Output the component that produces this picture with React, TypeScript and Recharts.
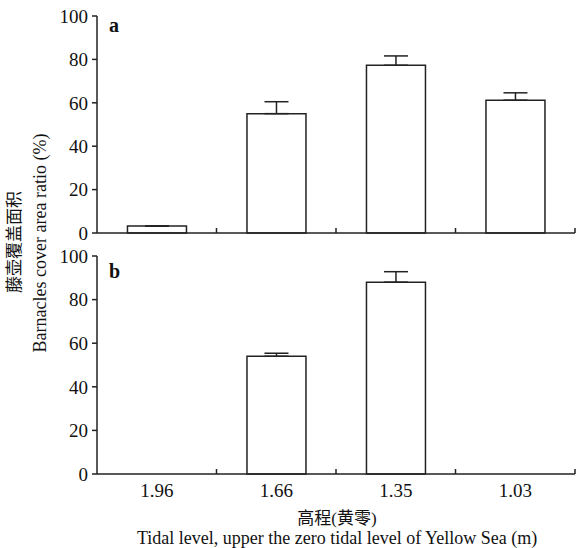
import React from 'react';
import { BarChart, Bar, XAxis, YAxis, ErrorBar } from 'recharts';

const categories = ['1.96', '1.66', '1.35', '1.03'];
const coverA = [3.2, 55, 77.3, 61.2];
const errA = [0, 5.5, 4.3, 3.4];
const coverB = [0, 54, 88, 0];
const errB = [0, 1.4, 4.8, 0];
const yTicks = [0, 20, 40, 60, 80, 100];

const dataA = categories.map((c, i) => ({ level: c, cover: coverA[i], err: [0, errA[i]] }));
const dataB = categories.map((c, i) => ({ level: c, cover: coverB[i], err: [0, errB[i]] }));

const FONT = '"Liberation Serif", "Times New Roman", "Noto Sans CJK SC", serif';
const STROKE = '#222';

const makeTick = (showLabel: boolean) => (props: any) => {
  const { x, y, payload } = props;
  const off = payload && typeof payload.offset === 'number' ? payload.offset : 0;
  return (
    <g>
      <line x1={x + off} x2={x + off} y1={y} y2={y - 5} stroke={STROKE} strokeWidth={1.5} />
      {showLabel && (
        <text x={x} y={y} dy={23} textAnchor="middle" fontSize={19} fontFamily={FONT} fill="#111">
          {payload.value}
        </text>
      )}
    </g>
  );
};

function Panel({ data, height, bottom, showLabel }: any) {
  return (
    <BarChart
      width={576}
      height={height}
      data={data}
      margin={{ top: 16, right: 1, left: 57, bottom }}
      barCategoryGap="25.5%"
    >
      <XAxis
        dataKey="level"
        tick={makeTick(showLabel)}
        tickLine={false}
        tickSize={0}
        tickMargin={0}
        height={30}
        stroke={STROKE}
        strokeWidth={1.5}
        interval={0}
      />
      <YAxis
        domain={[0, 100]}
        ticks={yTicks}
        width={40}
        tickSize={5}
        tickMargin={4}
        stroke={STROKE}
        strokeWidth={1.5}
        tick={{ fontSize: 19, fontFamily: FONT, fill: '#111' }}
        interval={0}
      />
      <Bar dataKey="cover" fill="#fff" stroke={STROKE} strokeWidth={1.5} isAnimationActive={false}>
        <ErrorBar dataKey="err" direction="y" width={12} stroke={STROKE} strokeWidth={1.5} isAnimationActive={false} />
      </Bar>
    </BarChart>
  );
}

export default function App() {
  return (
    <div style={{ position: 'absolute', left: 0, top: 0, width: 576, height: 548, overflow: 'hidden', background: '#fff', fontFamily: FONT, color: '#111' }}>
      <div style={{ position: 'absolute', left: 0, top: 0 }}>
        <Panel data={dataA} height={263} bottom={0} showLabel={false} />
      </div>
      <div style={{ position: 'absolute', left: 0, top: 240 }}>
        <Panel data={dataB} height={308} bottom={44} showLabel={true} />
      </div>
      <div style={{ position: 'absolute', left: 109, top: 14, fontSize: 20, fontWeight: 'bold', lineHeight: '22px' }}>a</div>
      <div style={{ position: 'absolute', left: 109, top: 260, fontSize: 20, fontWeight: 'bold', lineHeight: '22px' }}>b</div>
      <div style={{ position: 'absolute', left: 15, top: 242, width: 0, height: 0 }}>
        <div style={{ position: 'absolute', transform: 'translate(-50%,-50%) rotate(-90deg)', whiteSpace: 'nowrap', fontSize: 17, lineHeight: '18px' }}>藤壶覆盖面积</div>
      </div>
      <div style={{ position: 'absolute', left: 40, top: 243, width: 0, height: 0 }}>
        <div style={{ position: 'absolute', transform: 'translate(-50%,-50%) rotate(-90deg)', whiteSpace: 'nowrap', fontSize: 18, lineHeight: '20px' }}>Barnacles cover area ratio (%)</div>
      </div>
      <div style={{ position: 'absolute', left: 337, top: 519, width: 0, height: 0 }}>
        <div style={{ position: 'absolute', transform: 'translate(-50%,-50%)', whiteSpace: 'nowrap', fontSize: 17, lineHeight: '18px' }}>高程(黄零)</div>
      </div>
      <div style={{ position: 'absolute', left: 337, top: 538, width: 0, height: 0 }}>
        <div style={{ position: 'absolute', transform: 'translate(-50%,-50%)', whiteSpace: 'nowrap', fontSize: 18, lineHeight: '18px' }}>Tidal level, upper the zero tidal level of Yellow Sea (m)</div>
      </div>
    </div>
  );
}
